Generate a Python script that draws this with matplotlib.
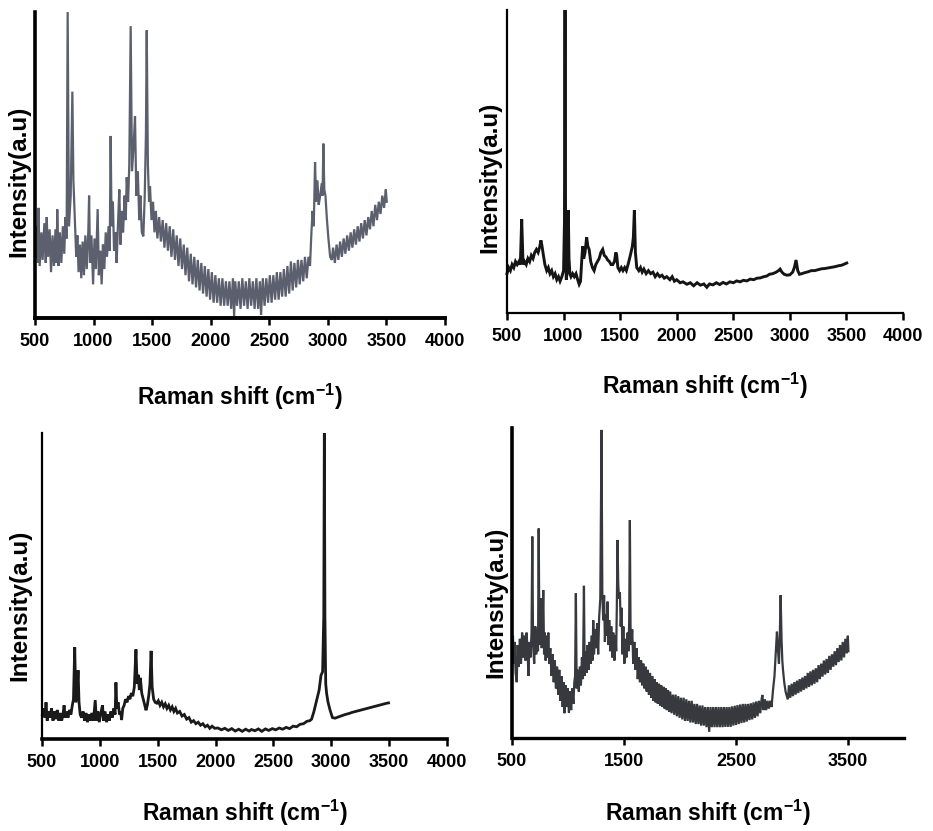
import matplotlib
matplotlib.use("Agg")
import matplotlib.pyplot as plt

plt.rcParams['font.family'] = ['Liberation Sans', 'DejaVu Sans']
plt.rcParams['mathtext.fontset'] = 'custom'
plt.rcParams['mathtext.rm'] = 'Liberation Sans:bold'
plt.rcParams['mathtext.bf'] = 'Liberation Sans:bold'
plt.rcParams['mathtext.default'] = 'bf'

# ---------------- data (Raman shift cm-1, intensity a.u. 0-100) ----------------
spectrum_1 = [
    (505, 20), (515, 30), (525, 18), (530, 36), (540, 17), (555, 28), (565, 19), (580, 31), (592, 18),
    (600, 33), (612, 20), (625, 29), (637, 15), (650, 27), (662, 17), (675, 29), (685, 18), (690, 35.5),
    (700, 17), (712, 28), (725, 18), (738, 30), (750, 21), (760, 33), (770, 26), (779, 100), (790, 30),
    (805, 40), (819, 74), (828, 45), (842, 30), (852, 20), (862, 27), (872, 15), (884, 24), (895, 13),
    (907, 25), (918, 14), (930, 27), (942, 16), (955, 28), (962, 40), (970, 18), (982, 27), (996, 11),
    (1008, 26), (1020, 16), (1035, 35.6), (1045, 14), (1058, 22), (1069, 11), (1080, 24), (1092, 16),
    (1104, 28), (1115, 20), (1128, 30), (1138, 22), (1146, 59.5), (1154, 30), (1165, 38), (1175, 22),
    (1188, 28), (1197, 18), (1208, 30), (1220, 42), (1230, 24), (1242, 35), (1252, 28), (1265, 40),
    (1275, 32), (1283, 46), (1295, 38), (1305, 50), (1317, 95.4), (1328, 48), (1340, 55), (1354, 66),
    (1365, 40), (1378, 48), (1390, 32), (1400, 40), (1412, 28), (1425, 26.7), (1437, 40), (1447, 60),
    (1454, 94), (1464, 50), (1474, 38), (1482, 43), (1495, 32), (1508, 38), (1520, 28), (1532, 35),
    (1545, 26), (1560, 33), (1575, 25), (1590, 32), (1605, 23), (1620, 31), (1635, 22), (1650, 30),
    (1665, 20), (1680, 29), (1695, 19), (1710, 27), (1725, 17), (1740, 26), (1755, 16), (1770, 24),
    (1785, 14), (1800, 23), (1815, 12), (1830, 21), (1845, 11), (1860, 20), (1875, 10), (1890, 19),
    (1905, 9), (1920, 18), (1935, 8), (1950, 17), (1965, 7), (1980, 16), (1995, 6), (2010, 15),
    (2025, 5), (2040, 14), (2055, 5), (2070, 13), (2085, 4), (2100, 13), (2115, 4), (2130, 12),
    (2145, 4), (2160, 12), (2175, 3), (2190, 13), (2200, 0.5), (2210, 12), (2225, 4), (2240, 12),
    (2255, 3), (2270, 13), (2285, 4), (2300, 12), (2315, 3), (2330, 13), (2345, 4), (2360, 12),
    (2375, 3), (2390, 13), (2405, 3), (2420, 12), (2430, 1), (2445, 13), (2460, 4), (2475, 13),
    (2490, 5), (2505, 14), (2520, 5), (2535, 14), (2550, 6), (2565, 15), (2580, 6), (2595, 15),
    (2610, 7), (2625, 16), (2640, 7), (2655, 17), (2670, 8), (2685, 18.5), (2700, 9), (2715, 18),
    (2730, 10), (2745, 19), (2760, 11), (2775, 19), (2790, 12), (2805, 20), (2820, 13), (2835, 20),
    (2848, 17), (2860, 28), (2870, 35), (2880, 30), (2891, 51), (2900, 38), (2911, 45), (2922, 37),
    (2934, 39.7), (2948, 44), (2955, 40), (2962, 57), (2970, 42), (2980, 40), (2991, 33), (3005, 26),
    (3020, 20), (3034, 19),
    (3045, 23), (3060, 18), (3075, 24), (3090, 19), (3105, 25), (3120, 20), (3135, 26), (3150, 21),
    (3165, 27), (3180, 22), (3195, 28), (3210, 23), (3225, 29), (3240, 24), (3255, 30), (3270, 25),
    (3285, 31), (3300, 26), (3315, 32), (3330, 27), (3345, 33), (3360, 29), (3375, 35), (3390, 30),
    (3405, 37), (3420, 32), (3435, 38), (3450, 34), (3465, 40), (3480, 36), (3495, 42), (3503, 38),
]

spectrum_2 = [
    (500, 13), (515, 15), (530, 14), (545, 16), (560, 15), (575, 17), (590, 16), (605, 17), (618, 16),
    (630, 31), (642, 16), (655, 17), (670, 16), (685, 18), (700, 17), (715, 19), (730, 18), (745, 20),
    (760, 21), (775, 20), (790, 22), (800, 24), (810, 22), (822, 19), (835, 16), (851, 14), (865, 15),
    (880, 13), (895, 14), (910, 12), (925, 13), (940, 11), (955, 12), (969, 10.5), (985, 12), (1000, 14),
    (1008, 30), (1013, 100), (1018, 25), (1024, 11), (1030, 13), (1036, 20), (1042, 34), (1048, 18),
    (1056, 13), (1066, 12), (1080, 13), (1095, 12), (1110, 13), (1125, 11), (1138, 9.5), (1150, 10.5),
    (1160, 17), (1169, 22), (1178, 18), (1190, 20), (1204, 25), (1215, 22), (1226, 21), (1240, 17),
    (1255, 15), (1270, 14), (1285, 16), (1300, 17), (1315, 18), (1330, 20), (1346, 21), (1360, 19),
    (1375, 18.5), (1390, 17.5), (1405, 17), (1420, 16), (1435, 16), (1450, 17), (1462, 20), (1470, 19),
    (1480, 15), (1495, 14), (1510, 15), (1525, 14), (1540, 15), (1555, 14), (1570, 16), (1590, 19),
    (1608, 22), (1617, 25), (1626, 34), (1635, 20), (1647, 15), (1665, 14), (1680, 15), (1695, 13.5),
    (1710, 14.5), (1730, 13), (1750, 14), (1770, 13), (1790, 13.5), (1810, 12), (1830, 13), (1850, 12),
    (1870, 12.5), (1890, 11.5), (1912, 12), (1940, 11), (1960, 12), (1980, 10.5), (2000, 11), (2030, 10),
    (2056, 10.3), (2090, 9.5), (2120, 10), (2150, 9), (2180, 10), (2210, 9.2), (2240, 9.6), (2266, 8.5),
    (2290, 9.6), (2320, 9.3), (2350, 10), (2380, 9.4), (2410, 10.1), (2440, 9.6), (2470, 10.3),
    (2501, 10), (2530, 10.6), (2560, 10.3), (2590, 10.8), (2620, 10.6), (2650, 11.2), (2680, 11),
    (2710, 11.5), (2740, 11.6), (2770, 12), (2796, 12.2), (2820, 12.8), (2850, 13), (2880, 13.5),
    (2900, 14), (2914, 14.5), (2930, 13.5), (2950, 12.8), (2973, 12.5), (3000, 12.6), (3025, 13.5),
    (3040, 15), (3055, 17.5), (3070, 14), (3085, 12.8), (3106, 13), (3130, 13.3), (3160, 13.6),
    (3190, 14), (3220, 14), (3250, 14.3), (3280, 14.6), (3310, 14.7), (3340, 14.9), (3370, 15.1),
    (3400, 15.3), (3430, 15.6), (3460, 15.8), (3485, 16.2), (3503, 16.5),
]

spectrum_3 = [
    (503, 8), (515, 10), (525, 7), (535, 12), (545, 6), (558, 9), (570, 7), (582, 10), (595, 6),
    (608, 9), (620, 6.5), (632, 9.5), (645, 6), (658, 8.5), (670, 6), (682, 8), (691, 11), (700, 7),
    (712, 9), (725, 7), (738, 9.5), (750, 8), (762, 11), (772, 13), (783, 30), (792, 12), (803, 15),
    (812, 22.5), (820, 12), (830, 8), (842, 7), (855, 9), (868, 6), (880, 8.5), (893, 5.5), (905, 8),
    (918, 6), (930, 8.5), (945, 6), (960, 12.7), (970, 6), (982, 9), (995, 5.5), (1008, 8.5),
    (1023, 11), (1032, 6), (1045, 9), (1058, 5.5), (1070, 8), (1082, 6), (1095, 9), (1108, 7),
    (1120, 10), (1132, 8), (1139, 18.5), (1147, 10), (1158, 12), (1170, 8), (1180, 9), (1188, 6.2),
    (1198, 10), (1210, 11), (1222, 13), (1235, 12), (1248, 14), (1260, 13), (1272, 15), (1285, 14),
    (1298, 17), (1312, 29.3), (1322, 18), (1332, 21), (1341, 16), (1350, 20), (1362, 15), (1375, 13),
    (1388, 11), (1399, 9.4), (1410, 11), (1422, 14), (1433, 18), (1443, 28.8), (1452, 17), (1465, 13),
    (1478, 12), (1492, 11.7), (1505, 12.5), (1520, 11), (1535, 12), (1550, 10.5), (1565, 11.5),
    (1580, 10), (1595, 11), (1610, 9.5), (1625, 10.5), (1640, 9), (1655, 10), (1670, 8.5), (1690, 9),
    (1710, 7.5), (1730, 8), (1750, 6.5), (1770, 7), (1790, 5.5), (1810, 6), (1830, 5), (1850, 5.5),
    (1870, 4.5), (1890, 5), (1910, 4), (1930, 4.5), (1950, 3.5), (1970, 4.2), (1992, 3.5), (2020, 3.6),
    (2050, 3), (2080, 3.5), (2110, 2.8), (2140, 3.4), (2170, 2.6), (2200, 3.2), (2230, 2.5),
    (2260, 3.2), (2290, 2.6), (2310, 3.1), (2340, 2.7), (2370, 3.3), (2400, 2.5), (2430, 3.3),
    (2460, 2.8), (2490, 3.4), (2520, 3), (2550, 3.6), (2580, 3.2), (2610, 3.8), (2640, 3.4),
    (2670, 4.2), (2700, 4), (2730, 4.8), (2760, 5), (2790, 5.8), (2815, 6), (2830, 6.5), (2850, 9),
    (2874, 12.7), (2895, 16), (2911, 20.8), (2925, 22), (2935, 40), (2940, 100), (2945, 40),
    (2952, 18), (2960, 14.8), (2972, 12), (2989, 9.5), (3010, 7), (3032, 6.8), (3060, 7.2),
    (3090, 7.6), (3120, 8), (3150, 8.3), (3180, 8.7), (3210, 9), (3240, 9.3), (3270, 9.6), (3300, 9.9),
    (3330, 10.2), (3360, 10.5), (3390, 10.8), (3420, 11.1), (3450, 11.4), (3480, 11.7), (3495, 11.8),
]

spectrum_4 = [
    (500, 22), (508, 33), (516, 24), (524, 31), (532, 21), (542, 18), (550, 30), (560, 23), (570, 32),
    (580, 24), (590, 34), (600, 26), (610, 33), (620, 25), (630, 34), (640, 27), (646, 20), (655, 31),
    (665, 26), (674, 34), (681, 65), (688, 30), (698, 24), (708, 36), (716, 27), (726, 35), (732, 28),
    (738, 67.6), (745, 30), (752, 38), (758, 45), (765, 29), (772, 36), (779, 47.7), (786, 27),
    (793, 34), (800, 25), (810, 33), (817, 26), (824, 34), (832, 24), (842, 29), (852, 20), (862, 27),
    (872, 18), (882, 25), (892, 16), (902, 23), (912, 14), (922, 22), (932, 12), (942, 20), (952, 10),
    (960, 18), (968, 8), (978, 17), (988, 10), (998, 16), (1008, 8.2), (1018, 15), (1028, 9),
    (1038, 16), (1048, 11), (1056, 18), (1063, 20), (1070, 46.7), (1077, 16), (1086, 22), (1096, 15),
    (1106, 23), (1115, 17), (1124, 26), (1133, 19), (1142, 49.1), (1149, 20), (1158, 28), (1166, 21),
    (1175, 30), (1184, 22), (1193, 31), (1202, 24), (1212, 33), (1218, 25), (1225, 38), (1232, 27),
    (1241, 35), (1250, 29), (1260, 37), (1269, 27), (1278, 39), (1288, 45), (1299, 99.4), (1306, 47),
    (1314, 38), (1322, 46), (1329, 31), (1337, 40), (1346, 33), (1353, 44), (1360, 30), (1368, 38),
    (1377, 28), (1386, 36), (1395, 26), (1404, 34), (1414, 25), (1423, 33), (1430, 28), (1436, 44),
    (1442, 63.9), (1448, 50), (1455, 45), (1463, 47), (1470, 36), (1478, 42), (1486, 27), (1494, 36),
    (1503, 24), (1512, 32), (1522, 26), (1532, 34), (1540, 28), (1546, 38), (1552, 70.3), (1558, 36),
    (1565, 30), (1573, 35), (1582, 24), (1592, 31), (1602, 22), (1612, 29), (1622, 19), (1632, 26),
    (1642, 18), (1652, 25), (1662, 17), (1672, 24), (1682, 16), (1692, 23), (1702, 15), (1712, 22),
    (1722, 14), (1732, 21), (1742, 13), (1752, 20), (1762, 12), (1772, 19), (1782, 11.5), (1792, 18),
    (1802, 11), (1812, 17.5), (1822, 10.5), (1832, 17), (1842, 10), (1852, 16.5), (1862, 9.5),
    (1872, 16), (1882, 9), (1892, 15.5), (1902, 8.5), (1912, 15), (1924, 8), (1936, 14), (1948, 7.5),
    (1960, 14), (1972, 7), (1984, 13.5), (1996, 6.5), (2008, 13), (2020, 6), (2032, 13), (2044, 5.5),
    (2056, 12.5), (2068, 5.5), (2080, 12), (2092, 5), (2104, 12), (2116, 5), (2128, 11), (2140, 4.5),
    (2152, 11), (2164, 4.5), (2176, 10.5), (2188, 4), (2200, 10.5), (2212, 4), (2224, 10), (2236, 3.5),
    (2248, 10), (2260, 2), (2272, 10), (2284, 3.5), (2296, 10), (2308, 3.5), (2320, 10), (2332, 3.5),
    (2344, 10), (2356, 3.5), (2368, 10), (2380, 3.5), (2392, 10), (2404, 3.6), (2416, 10), (2428, 3.6),
    (2440, 10), (2452, 3.6), (2464, 10.2), (2476, 4), (2488, 10.4), (2500, 4.2), (2512, 10.6),
    (2524, 4.5), (2536, 10.8), (2548, 4.8), (2560, 11), (2572, 5), (2584, 11), (2596, 5.3), (2608, 11),
    (2620, 5.8), (2632, 11.2), (2644, 6), (2656, 11.5), (2668, 6.5), (2680, 11.8), (2692, 7),
    (2704, 12), (2716, 8), (2728, 12.5), (2735, 13.9), (2745, 9), (2757, 12.5), (2769, 9), (2781, 12),
    (2793, 9.5), (2805, 12), (2817, 10), (2830, 15.5), (2843, 20), (2855, 28), (2865, 34.3), (2875, 28),
    (2883, 24), (2890, 32), (2898, 46.1), (2906, 32), (2913, 25), (2919, 22), (2930, 18), (2942, 15),
    (2955, 13.3), (2963, 12.5), (2972, 17), (2984, 13), (2996, 17.5), (3008, 13.5), (3020, 18),
    (3032, 14), (3044, 18.5), (3056, 14.5), (3068, 19), (3080, 15), (3092, 19.5), (3104, 15.5),
    (3116, 20), (3128, 16), (3140, 21), (3152, 16.5), (3164, 21.5), (3176, 17), (3188, 22), (3200, 17.5),
    (3212, 22.5), (3224, 18), (3236, 23.5), (3248, 19), (3260, 24), (3272, 19.8), (3284, 25),
    (3296, 20.5), (3308, 25.5), (3320, 21), (3332, 26.5), (3344, 22), (3356, 27), (3368, 23), (3380, 28),
    (3392, 23.5), (3404, 29), (3416, 24.5), (3428, 30), (3440, 25), (3452, 31), (3464, 26), (3476, 32),
    (3488, 27.3), (3498, 33), (3503, 28),
]

ticks_full = [500, 1000, 1500, 2000, 2500, 3000, 3500, 4000]
ticks_sparse = [500, 1500, 2500, 3500]
xlabel_text = r'Raman shift (cm$^{-1}$)'
ylabel_text = 'Intensity(a.u)'

# ---------------- figure ----------------
fig = plt.figure(figsize=(9.33, 8.31), dpi=100)

panels = [
    # data, rect, color, lw, ticks, spine widths (left, bottom), ylabel coords, xlabel pad
    (spectrum_1, [0.0375, 0.6173, 0.4394, 0.3682], '#5c606e', 1.6, ticks_full, (2.6, 2.8), (-0.012, 0.448), 23),
    (spectrum_2, [0.5434, 0.6233, 0.4244, 0.3646], '#151515', 2.1, ticks_full, (1.6, 1.6), (-0.013, 0.449), 18),
    (spectrum_3, [0.0450, 0.1107, 0.4341, 0.3682], '#1a1a1a', 2.0, ticks_full, (1.6, 2.6), (-0.025, 0.438), 19),
    (spectrum_4, [0.5488, 0.1119, 0.4202, 0.3730], '#38393e', 1.6, ticks_sparse, (2.6, 2.4), (-0.013, 0.439), 20),
]

for data, rect, color, lw, ticks, (slw, blw), ycoords, xpad in panels:
    ax = fig.add_axes(rect)
    xs = [p[0] for p in data]
    ys = [p[1] for p in data]
    ax.plot(xs, ys, color=color, lw=lw, solid_joinstyle='miter', clip_on=False)
    ax.set_xlim(500, 4000)
    ax.set_ylim(0, 100)
    ax.spines['top'].set_visible(False)
    ax.spines['right'].set_visible(False)
    ax.spines['left'].set_linewidth(slw)
    ax.spines['bottom'].set_linewidth(blw)
    ax.set_yticks([])
    ax.set_xticks(ticks)
    ax.set_xticklabels([str(t) for t in ticks])
    ax.tick_params(axis='x', direction='out', length=5, width=1.8, pad=6,
                   labelsize=13)
    for lab in ax.get_xticklabels():
        lab.set_fontweight('bold')
    ax.set_xlabel(xlabel_text, fontsize=16.5, fontweight='bold', labelpad=xpad)
    ax.set_ylabel(ylabel_text, fontsize=17.5, fontweight='bold')
    ax.yaxis.set_label_coords(*ycoords)

fig.savefig('out.png', dpi=100)
